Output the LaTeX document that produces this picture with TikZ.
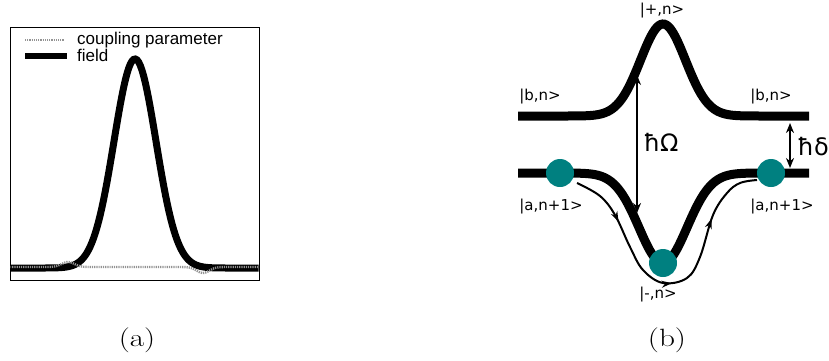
\documentclass[tikz,border=0pt]{standalone}
\usepackage{fontspec}
\newfontfamily\lab{DejaVu Sans}
\newfontfamily\leg{Liberation Sans}
\usetikzlibrary{decorations.markings,arrows.meta}
\definecolor{teal0}{RGB}{0,128,128}
\tikzset{
  thickcurve/.style={line width=9pt, black},
  fieldline/.style={line width=7pt, black},
  couplingline/.style={line width=2.4pt, gray!85, dash pattern=on 1.2pt off 1pt},
  state/.style={circle, fill=teal0, minimum size=28pt, inner sep=0pt},
  lbl/.style={font=\lab\fontsize{15}{17}\selectfont, inner sep=0pt},
  biglbl/.style={font=\lab\fontsize{24}{26}\selectfont, inner sep=0pt},
  legtext/.style={font=\leg\fontsize{17}{19}\selectfont, inner sep=0pt, anchor=west},
  caption/.style={font=\fontsize{25}{28}\selectfont, inner sep=0pt, xscale=1.25, transform shape},
  gap/.style={line width=2.5pt, {Stealth[length=10pt,width=8pt]}-{Stealth[length=10pt,width=8pt]}},
  route/.style={line width=2pt, postaction={decorate}, decoration={markings,
     mark=at position 0.2 with {\arrow{Stealth[length=10pt,width=7pt]}},
     mark=at position 0.5 with {\arrow{Stealth[length=10pt,width=7pt]}},
     mark=at position 0.78 with {\arrow{Stealth[length=10pt,width=7pt]}},
     mark=at position 1 with {\arrow{Stealth[length=10pt,width=7pt]}}}}
}
\begin{document}
\begin{tikzpicture}[x=1pt,y=-1pt]
\useasboundingbox (0,0) rectangle (829,360);
% ---------- panel (a)
\node[draw, line width=1pt, minimum width=249pt, minimum height=253pt, inner sep=0pt, anchor=north west] (frame) at (10,27) {};
\begin{scope}
\clip (10.5,27.5) rectangle (258.5,279.5);
\draw[fieldline] plot[domain=10:259, samples=150] (\x, {268-209*exp(-((\x-135)/21)^2/2)});
\draw[couplingline] plot[domain=10:259, samples=150] (\x, {267-5*exp(-((\x-68)/9)^2)+6*exp(-((\x-203)/9)^2)});
\end{scope}
\coordinate (l1a) at (25,40); \coordinate (l1b) at (64,40);
\coordinate (l2a) at (25,56); \coordinate (l2b) at (67,56);
\draw[couplingline] (l1a) -- (l1b);
\draw[line width=6pt] (l2a) -- (l2b);
\node[legtext] (t1) at (77,40) {coupling parameter};
\node[legtext] (t2) at (77,55) {field};
\node[caption] (capa) at (137,340) {(a)};
% ---------- panel (b)
\draw[thickcurve] plot[domain=518:809, samples=160] (\x, {116-92*exp(-((\x-663)/22.5)^2/2)});
\draw[thickcurve] plot[domain=518:809, samples=160] (\x, {173+90*exp(-((\x-663)/24)^2/2)});
\node[state] (sa) at (560,173) {};
\node[state] (sb) at (771,173) {};
\node[state] (sm) at (663,263) {};
\draw[route] plot[smooth, tension=0.6] coordinates {(577,183) (600,196) (615,215) (630,247) (643,270) (663,283) (687,278) (700,257) (713,215) (727,193) (740,183) (757,180)};
\coordinate (om1) at (637,75); \coordinate (om2) at (637,213);
\draw[gap] (om1) -- (om2);
\coordinate (de1) at (790,123); \coordinate (de2) at (790,168);
\draw[gap] (de1) -- (de2);
\node[biglbl] (hO) at (661,142) {ħΩ};
\node[biglbl] (hd) at (813,147) {ħδ};
\node[lbl] (bl) at (540,97) {|b,n>};
\node[lbl] (br) at (771,97) {|b,n>};
\node[lbl] (pl) at (662,11) {|+,n>};
\node[lbl] (al) at (551,207) {|a,n+1>};
\node[lbl] (ar) at (782,207) {|a,n+1>};
\node[lbl] (ml) at (658,295) {|-,n>};
\node[caption] (capb) at (667,340) {(b)};
\end{tikzpicture}
\end{document}
